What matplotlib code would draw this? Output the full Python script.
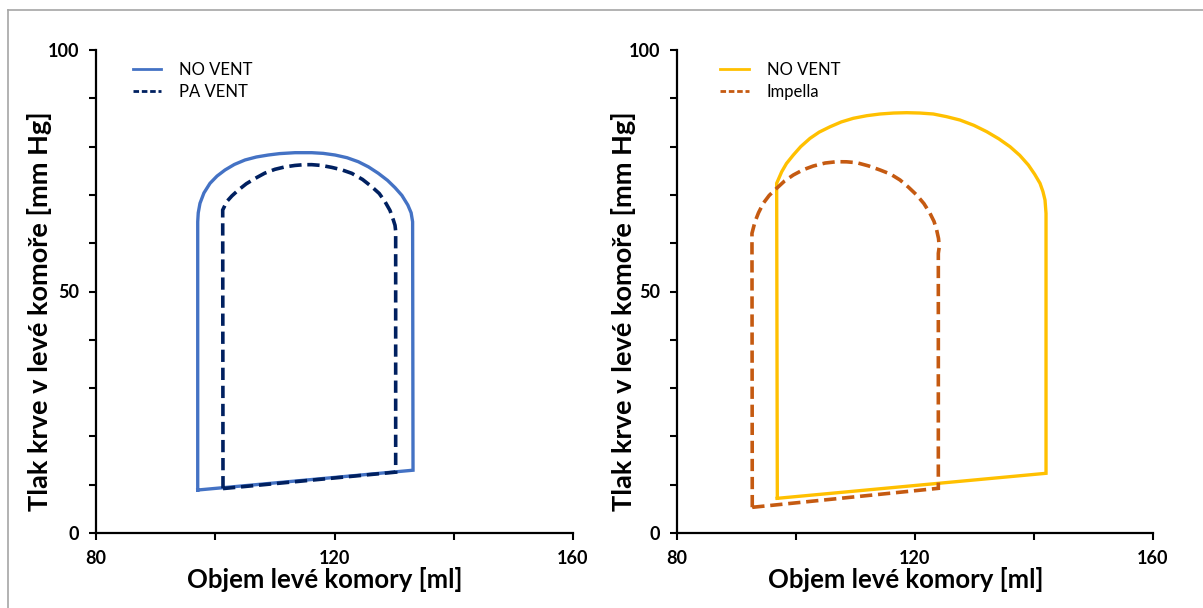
import matplotlib
matplotlib.use("Agg")
import matplotlib.pyplot as plt
from matplotlib.lines import Line2D

plt.rcParams['font.family'] = ['Lato', 'DejaVu Sans']

# PV loops: volume [ml], pressure [mm Hg]
# left panel
no_vent_l_v = [97.06, 133.17, 133.1, 132.85, 132.3, 131.3, 130.15, 128.9, 127.35, 125.7,
               123.99, 122.1, 120.08, 118.1, 116.18, 113.38, 110.8, 108.9, 106.9, 104.99,
               103.2, 101.64, 100.3, 99.12, 98.1, 97.44, 97.15, 97.06, 97.06]
no_vent_l_p = [8.9, 13.0, 64.45, 66.3, 67.9, 69.9, 71.5, 73.0, 74.47, 75.8,
               76.87, 77.7, 78.26, 78.6, 78.74, 78.74, 78.55, 78.26, 77.85, 77.23,
               76.3, 75.16, 73.9, 72.4, 70.4, 68.26, 66.3, 64.45, 8.9]

pa_vent_v = [101.3, 130.26, 130.26, 130.15, 129.87, 129.3, 128.47, 127.5, 126.24, 124.7,
             122.89, 121.2, 119.53, 117.8, 116.18, 114.8, 113.38, 111.7, 110.02, 108.3,
             106.67, 105.2, 103.87, 102.8, 101.92, 101.25, 101.3]
pa_vent_p = [9.2, 12.6, 62.5, 63.7, 64.8, 66.8, 68.6, 70.3, 71.7, 73.2,
             74.47, 75.2, 75.7, 76.1, 76.26, 76.25, 76.1, 75.8, 75.3, 74.5,
             73.4, 72.3, 71.0, 69.8, 68.6, 66.87, 9.2]

# right panel
no_vent_r_v = [96.86, 142.02, 142.02, 141.85, 141.5, 141.01, 140.1, 139.05, 137.6, 135.97,
               134.1, 132.05, 129.9, 127.56, 125.3, 123.08, 120.8, 118.61, 116.4, 114.12,
               111.9, 109.63, 107.6, 105.71, 103.9, 102.35, 100.8, 99.55, 98.4, 97.6,
               96.75, 96.86]
no_vent_r_p = [7.18, 12.36, 66.19, 68.94, 70.7, 72.40, 74.3, 76.19, 78.2, 79.98,
               81.6, 83.09, 84.4, 85.5, 86.2, 86.75, 86.95, 87.02, 86.95, 86.75,
               86.4, 85.86, 85.1, 84.1, 83.0, 81.7, 80.0, 78.26, 76.5, 74.8,
               72.40, 7.18]

impella_v = [92.65, 123.92, 123.92, 124.08, 123.95, 123.64, 123.2, 122.52, 121.5, 120.28,
             118.9, 117.48, 115.9, 114.12, 112.2, 110.2, 108.5, 106.84, 104.9, 102.91,
             101.2, 99.55, 98.1, 96.75, 95.5, 94.5, 93.7, 93.11, 92.6, 92.65]
impella_p = [5.32, 9.25, 57.9, 59.28, 61.0, 62.73, 64.5, 66.19, 68.2, 69.98,
             71.6, 73.09, 74.3, 75.16, 76.0, 76.67, 76.85, 76.87, 76.6, 75.98,
             75.2, 74.12, 72.9, 71.37, 69.9, 68.26, 66.3, 64.45, 62.05, 5.32]

x_ticks = [80, 100, 120, 140, 160]
x_labels = ['80', '', '120', '', '160']
y_ticks = list(range(0, 101, 10))
y_labels = ['0', '', '', '', '', '50', '', '', '', '', '100']

xlabel = 'Objem levé komory [ml]'
ylabel = 'Tlak krve v levé komoře [mm Hg]'

blue = '#4472C4'
navy = '#002060'
yellow = '#FFC000'
orange = '#C55A11'

fig = plt.figure(figsize=(12.03, 6.08), dpi=100)

# grey frame of the original picture (top and left edge)
fig.add_artist(Line2D([8 / 1203, 1], [1 - 10 / 608, 1 - 10 / 608], color='#A6A6A6', lw=1.2))
fig.add_artist(Line2D([8 / 1203, 8 / 1203], [0, 1 - 10 / 608], color='#A6A6A6', lw=1.2))

ax1 = fig.add_axes([96 / 1203, 75 / 608, 477 / 1203, 483 / 608])
ax2 = fig.add_axes([677 / 1203, 75 / 608, 476 / 1203, 483 / 608])

dash = (0, (3.4, 1.6))


def style(ax, ylx):
    ax.set_xlim(80, 160)
    ax.set_ylim(0, 100)
    for s in ['top', 'right']:
        ax.spines[s].set_visible(False)
    for s in ['left', 'bottom']:
        ax.spines[s].set_linewidth(1.6)
    ax.set_xticks(x_ticks)
    ax.set_xticklabels(x_labels)
    ax.set_yticks(y_ticks)
    ax.set_yticklabels(y_labels)
    ax.tick_params(direction='out', length=5, width=1.5, labelsize=13, pad=7)
    for t in ax.get_xticklabels() + ax.get_yticklabels():
        t.set_fontweight('bold')
    ax.set_xlabel(xlabel, fontsize=18.5, fontweight='bold')
    ax.set_ylabel(ylabel, fontsize=19.5, fontweight='bold')
    ax.xaxis.set_label_coords(0.48, -0.071)
    ax.yaxis.set_label_coords(ylx, 0.46)


ax1.plot(no_vent_l_v, no_vent_l_p, color=blue, lw=2.4, solid_joinstyle='miter')
ax1.plot(pa_vent_v, pa_vent_p, color=navy, lw=2.6, linestyle=dash, dash_joinstyle='miter')
ax2.plot(no_vent_r_v, no_vent_r_p, color=yellow, lw=2.4, solid_joinstyle='miter')
ax2.plot(impella_v, impella_p, color=orange, lw=2.6, linestyle=dash, dash_joinstyle='miter')

style(ax1, -0.092)
style(ax2, -0.086)

h1 = [Line2D([], [], color=blue, lw=2), Line2D([], [], color=navy, lw=2, linestyle=(0, (2, 1)))]
h2 = [Line2D([], [], color=yellow, lw=2), Line2D([], [], color=orange, lw=2, linestyle=(0, (2, 1)))]
for ax, h, labels, lx in [(ax1, h1, ['NO VENT', 'PA VENT'], 0.077),
                          (ax2, h2, ['NO VENT', 'Impella'], 0.091)]:
    ax.legend(h, labels, loc='upper left', bbox_to_anchor=(lx, 0.975), frameon=False,
              fontsize=12, handlelength=1.7, handletextpad=1.1, labelspacing=0.35,
              borderpad=0, borderaxespad=0)

fig.savefig('out.png', dpi=100)
